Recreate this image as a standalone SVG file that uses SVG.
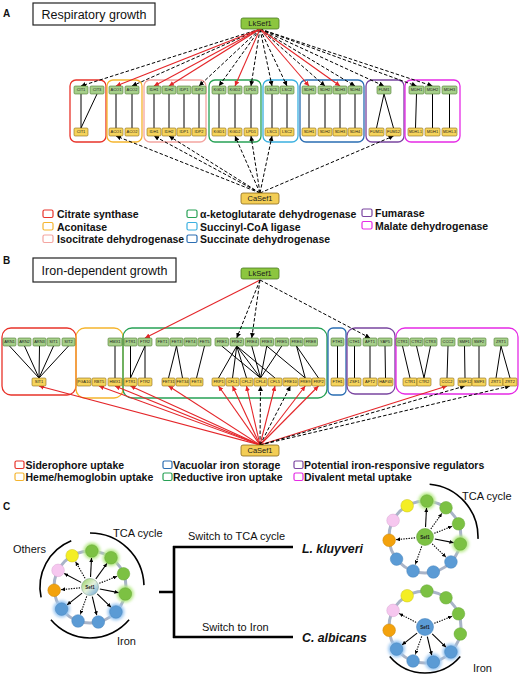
<svg xmlns="http://www.w3.org/2000/svg" width="520" height="680" viewBox="0 0 520 680">
<defs>
<style>
text{font-family:"Liberation Sans",Arial,sans-serif}
.g{fill:#a6cf8a;stroke:#4e7a2f;stroke-width:.6}
.y{fill:#f6d45c;stroke:#8a6a1a;stroke-width:.6}
.nt{font-size:4px;text-anchor:middle;fill:#1a1a1a}
.sm{font-size:3.5px}
.tf{font-size:7.5px;text-anchor:middle;fill:#1a1a1a}
.lk{fill:#8cc63f;stroke:#4a7a25;stroke-width:.8}
.ca{fill:#f3cd55;stroke:#8a6a1a;stroke-width:.8}
.red{stroke:#e4262a;stroke-width:1.1;fill:none}
.dash{stroke:#000;stroke-width:1;stroke-dasharray:3.5 2;fill:none}
.blk{stroke:#000;stroke-width:1;fill:none}
.box{fill:none;stroke-width:1.3}
.leg{font-size:10.5px;font-weight:bold;fill:#111}
.li{fill:none;stroke-width:1.2}
.title{font-size:12.5px;fill:#111;text-anchor:middle}
.tb{fill:#fff;stroke:#222;stroke-width:1.2}
.pl{font-size:10px;font-weight:bold;fill:#111}
.ct{font-size:11px;fill:#111}
.sp{font-size:12.3px;font-weight:bold;font-style:italic;fill:#111}
.ring{fill:none;stroke:#a9b4c8;stroke-width:3}
.cg{fill:#7cc143;stroke:#69a83a;stroke-width:.5}
.cb{fill:#5b9bd5;stroke:#4a86bd;stroke-width:.5}
.cy{fill:#f4ee24;stroke:#c8c21a;stroke-width:.5}
.cp{fill:#f6c7ef;stroke:#d9a6d2;stroke-width:.5}
.co{fill:#f3a20c;stroke:#c98508;stroke-width:.5}
.hg{fill:#b8ea8a;filter:url(#blur)}
.hb{fill:#9cc8f2;filter:url(#blur)}
.as{stroke:#000;stroke-width:1.1;fill:none;marker-end:url(#ac)}
.ad{stroke:#000;stroke-width:1.1;stroke-dasharray:1.4 1.2;fill:none;marker-end:url(#ac)}
.arc{fill:none;stroke:#000;stroke-width:1.6}
.tree{stroke:#000;stroke-width:2.6;fill:none}
.s1{font-size:4.5px;font-weight:bold;text-anchor:middle;fill:#1a1a1a}
</style>
<marker id="ar" markerUnits="userSpaceOnUse" markerWidth="5" markerHeight="5" refX="5" refY="2.5" orient="auto"><path d="M0,0 L5,2.5 L0,5 z" fill="#e4262a"/></marker>
<marker id="ak" markerUnits="userSpaceOnUse" markerWidth="5" markerHeight="5" refX="5" refY="2.5" orient="auto"><path d="M0,0 L5,2.5 L0,5 z" fill="#000"/></marker>
<marker id="ac" markerUnits="userSpaceOnUse" markerWidth="4" markerHeight="4" refX="4" refY="2" orient="auto"><path d="M0,0 L4,2 L0,4 z" fill="#000"/></marker>
<filter id="blur" x="-60%" y="-60%" width="220%" height="220%"><feGaussianBlur stdDeviation="1.6"/></filter>
<linearGradient id="sefg" x1="0" y1="0" x2="1" y2="1"><stop offset="0" stop-color="#8fcf5a"/><stop offset="0.5" stop-color="#e6f2dc"/><stop offset="1" stop-color="#5f9fd9"/></linearGradient>
</defs>
<rect width="520" height="680" fill="#fff"/>

<!-- ================= PANEL A ================= -->
<text class="pl" x="3" y="17">A</text>
<g id="titleA"><rect class="tb" x="33" y="3" width="122" height="22"/><text class="title" x="94" y="19">Respiratory growth</text></g>

<g id="groupsA">
<rect class="box" x="70" y="80" width="36" height="62" rx="6" stroke="#e8332a"/>
<rect class="box" x="107" y="80" width="35" height="62" rx="6" stroke="#f5b52e"/>
<rect class="box" x="144" y="80" width="62" height="62" rx="6" stroke="#f4a5a0"/>
<rect class="box" x="209" y="80" width="52" height="62" rx="6" stroke="#27a155"/>
<rect class="box" x="263" y="80" width="35" height="62" rx="6" stroke="#3bb0e0"/>
<rect class="box" x="300" y="80" width="64" height="62" rx="6" stroke="#2a6db2"/>
<rect class="box" x="366" y="80" width="38" height="62" rx="6" stroke="#7a45a0"/>
<rect class="box" x="405" y="80" width="55" height="62" rx="6" stroke="#e52ae5"/>
</g>

<g id="connectorsA">
<!-- internal -->
<path class="blk" d="M81,94L81,128M97,94L81,128M116,94L116,128M132,94L132,128M154,94L154,128M169,94L169,128M184,94L184,128M199,94L199,128M219,94L219,128M235,94L235,128M251,94L251,128M272,94L272,128M287,94L287,128M309,94L309,128M325,94L325,128M340,94L340,128M355,94L355,128M384,94L376.5,128M384,94L393.5,128M416.5,94L415.5,128M432.5,94L432.5,128M449.5,94L449.5,128"/>
<!-- LkSef1 -> top -->
<line class="dash" x1="260" y1="29" x2="81" y2="86" marker-end="url(#ak)"/>
<line class="dash" x1="260" y1="29" x2="132" y2="86" marker-end="url(#ak)"/>
<line class="dash" x1="260" y1="29" x2="199" y2="86" marker-end="url(#ak)"/>
<line class="dash" x1="260" y1="29" x2="219" y2="86" marker-end="url(#ak)"/>
<line class="dash" x1="260" y1="29" x2="251" y2="86" marker-end="url(#ak)"/>
<line class="dash" x1="260" y1="29" x2="272" y2="86" marker-end="url(#ak)"/>
<line class="dash" x1="260" y1="29" x2="287" y2="86" marker-end="url(#ak)"/>
<line class="dash" x1="260" y1="29" x2="325" y2="86" marker-end="url(#ak)"/>
<line class="dash" x1="260" y1="29" x2="355" y2="86" marker-end="url(#ak)"/>
<line class="dash" x1="260" y1="29" x2="384" y2="86" marker-end="url(#ak)"/>
<line class="dash" x1="260" y1="29" x2="416.5" y2="86" marker-end="url(#ak)"/>
<line class="dash" x1="260" y1="29" x2="432.5" y2="86" marker-end="url(#ak)"/>
<line class="red" x1="260" y1="29" x2="116" y2="86" marker-end="url(#ar)"/>
<line class="red" x1="260" y1="29" x2="154" y2="86" marker-end="url(#ar)"/>
<line class="red" x1="260" y1="29" x2="169" y2="86" marker-end="url(#ar)"/>
<line class="red" x1="260" y1="29" x2="235" y2="86" marker-end="url(#ar)"/>
<line class="red" x1="260" y1="29" x2="309" y2="86" marker-end="url(#ar)"/>
<line class="red" x1="260" y1="29" x2="340" y2="86" marker-end="url(#ar)"/>
<!-- CaSef1 -> bottom -->
<line class="dash" x1="260" y1="193" x2="116" y2="136" marker-end="url(#ak)"/>
<line class="dash" x1="260" y1="193" x2="154" y2="136" marker-end="url(#ak)"/>
<line class="dash" x1="260" y1="193" x2="169" y2="136" marker-end="url(#ak)"/>
<line class="dash" x1="260" y1="193" x2="235" y2="136" marker-end="url(#ak)"/>
<line class="dash" x1="260" y1="193" x2="251" y2="136" marker-end="url(#ak)"/>
<line class="dash" x1="260" y1="193" x2="272" y2="136" marker-end="url(#ak)"/>
<line class="dash" x1="260" y1="193" x2="393.5" y2="136" marker-end="url(#ak)"/>
</g>

<g id="LkSef1_A"><rect class="lk" x="241" y="18" width="38" height="11" rx="2"/><text class="tf" x="260" y="26.3">LkSef1</text></g>
<g id="CaSef1_A"><rect class="ca" x="241" y="193" width="38" height="11" rx="2"/><text class="tf" x="260" y="201.3">CaSef1</text></g>

<g id="nodesA_top">
<rect class="g" x="74" y="86" width="14" height="8" rx="1.2"/><text class="nt" x="81" y="91.4">CIT1</text>
<rect class="g" x="90" y="86" width="14" height="8" rx="1.2"/><text class="nt" x="97" y="91.4">CIT3</text>
<rect class="g" x="109" y="86" width="14" height="8" rx="1.2"/><text class="nt" x="116" y="91.4">ACO1</text>
<rect class="g" x="125" y="86" width="14" height="8" rx="1.2"/><text class="nt" x="132" y="91.4">ACO2</text>
<rect class="g" x="147" y="86" width="14" height="8" rx="1.2"/><text class="nt" x="154" y="91.4">IDH1</text>
<rect class="g" x="162" y="86" width="14" height="8" rx="1.2"/><text class="nt" x="169" y="91.4">IDH2</text>
<rect class="g" x="177" y="86" width="14" height="8" rx="1.2"/><text class="nt" x="184" y="91.4">IDP1</text>
<rect class="g" x="192" y="86" width="14" height="8" rx="1.2"/><text class="nt" x="199" y="91.4">IDP2</text>
<rect class="g" x="212" y="86" width="14" height="8" rx="1.2"/><text class="nt" x="219" y="91.4">KGD1</text>
<rect class="g" x="228" y="86" width="14" height="8" rx="1.2"/><text class="nt" x="235" y="91.4">KGD2</text>
<rect class="g" x="244" y="86" width="14" height="8" rx="1.2"/><text class="nt" x="251" y="91.4">LPD1</text>
<rect class="g" x="265" y="86" width="14" height="8" rx="1.2"/><text class="nt" x="272" y="91.4">LSC1</text>
<rect class="g" x="280" y="86" width="14" height="8" rx="1.2"/><text class="nt" x="287" y="91.4">LSC2</text>
<rect class="g" x="302" y="86" width="14" height="8" rx="1.2"/><text class="nt" x="309" y="91.4">SDH1</text>
<rect class="g" x="318" y="86" width="14" height="8" rx="1.2"/><text class="nt" x="325" y="91.4">SDH2</text>
<rect class="g" x="333" y="86" width="14" height="8" rx="1.2"/><text class="nt" x="340" y="91.4">SDH3</text>
<rect class="g" x="348" y="86" width="14" height="8" rx="1.2"/><text class="nt" x="355" y="91.4">SDH4</text>
<rect class="g" x="377" y="86" width="14" height="8" rx="1.2"/><text class="nt" x="384" y="91.4">FUM1</text>
<rect class="g" x="409" y="86" width="15" height="8" rx="1.2"/><text class="nt" x="416.5" y="91.4">MDH1</text>
<rect class="g" x="425" y="86" width="15" height="8" rx="1.2"/><text class="nt" x="432.5" y="91.4">MDH2</text>
<rect class="g" x="442" y="86" width="15" height="8" rx="1.2"/><text class="nt" x="449.5" y="91.4">MDH3</text>
</g>
<g id="nodesA_bottom">
<rect class="y" x="74" y="128" width="14" height="8" rx="1.2"/><text class="nt" x="81" y="133.4">CIT1</text>
<rect class="y" x="109" y="128" width="14" height="8" rx="1.2"/><text class="nt" x="116" y="133.4">ACO1</text>
<rect class="y" x="125" y="128" width="14" height="8" rx="1.2"/><text class="nt" x="132" y="133.4">ACO2</text>
<rect class="y" x="147" y="128" width="14" height="8" rx="1.2"/><text class="nt" x="154" y="133.4">IDH1</text>
<rect class="y" x="162" y="128" width="14" height="8" rx="1.2"/><text class="nt" x="169" y="133.4">IDH2</text>
<rect class="y" x="177" y="128" width="14" height="8" rx="1.2"/><text class="nt" x="184" y="133.4">IDP1</text>
<rect class="y" x="192" y="128" width="14" height="8" rx="1.2"/><text class="nt" x="199" y="133.4">IDP2</text>
<rect class="y" x="212" y="128" width="14" height="8" rx="1.2"/><text class="nt" x="219" y="133.4">KGD1</text>
<rect class="y" x="228" y="128" width="14" height="8" rx="1.2"/><text class="nt" x="235" y="133.4">KGD2</text>
<rect class="y" x="244" y="128" width="14" height="8" rx="1.2"/><text class="nt" x="251" y="133.4">LPD1</text>
<rect class="y" x="265" y="128" width="14" height="8" rx="1.2"/><text class="nt" x="272" y="133.4">LSC1</text>
<rect class="y" x="280" y="128" width="14" height="8" rx="1.2"/><text class="nt" x="287" y="133.4">LSC2</text>
<rect class="y" x="302" y="128" width="14" height="8" rx="1.2"/><text class="nt" x="309" y="133.4">SDH1</text>
<rect class="y" x="318" y="128" width="14" height="8" rx="1.2"/><text class="nt" x="325" y="133.4">SDH2</text>
<rect class="y" x="333" y="128" width="14" height="8" rx="1.2"/><text class="nt" x="340" y="133.4">SDH3</text>
<rect class="y" x="348" y="128" width="14" height="8" rx="1.2"/><text class="nt" x="355" y="133.4">SDH4</text>
<rect class="y" x="369" y="128" width="15" height="8" rx="1.2"/><text class="nt" x="376.5" y="133.4">FUM11</text>
<rect class="y" x="386" y="128" width="15" height="8" rx="1.2"/><text class="nt" x="393.5" y="133.4">FUM12</text>
<rect class="y" x="408" y="128" width="15" height="8" rx="1.2"/><text class="nt sm" x="415.5" y="133.3">MDH1-1</text>
<rect class="y" x="425" y="128" width="15" height="8" rx="1.2"/><text class="nt" x="432.5" y="133.4">MDH1</text>
<rect class="y" x="442" y="128" width="15" height="8" rx="1.2"/><text class="nt sm" x="449.5" y="133.3">MDH1-3</text>
</g>

<g id="legendA">
<rect class="li" x="43" y="210" width="10" height="7.5" rx="1.5" stroke="#e8332a"/><text class="leg" x="57" y="218">Citrate synthase</text>
<rect class="li" x="43" y="222.5" width="10" height="7.5" rx="1.5" stroke="#f5b52e"/><text class="leg" x="57" y="230.5">Aconitase</text>
<rect class="li" x="43" y="235" width="10" height="7.5" rx="1.5" stroke="#f4a5a0"/><text class="leg" x="57" y="243">Isocitrate dehydrogenase</text>
<rect class="li" x="187" y="210" width="10" height="7.5" rx="1.5" stroke="#27a155"/><text class="leg" x="200" y="218">α-ketoglutarate dehydrogenase</text>
<rect class="li" x="187" y="222.5" width="10" height="7.5" rx="1.5" stroke="#3bb0e0"/><text class="leg" x="200" y="230.5">Succinyl-CoA ligase</text>
<rect class="li" x="187" y="235" width="10" height="7.5" rx="1.5" stroke="#2a6db2"/><text class="leg" x="200" y="243">Succinate dehydrogenase</text>
<rect class="li" x="362" y="209" width="10" height="7.5" rx="1.5" stroke="#7a45a0"/><text class="leg" x="375" y="217">Fumarase</text>
<rect class="li" x="362" y="221.5" width="10" height="7.5" rx="1.5" stroke="#e52ae5"/><text class="leg" x="375" y="229.5">Malate dehydrogenase</text>
</g>

<!-- ================= PANEL B ================= -->
<text class="pl" x="3" y="264">B</text>
<g id="titleB"><rect class="tb" x="33" y="258" width="143" height="24"/><text class="title" x="104.5" y="275">Iron-dependent growth</text></g>

<g id="groupsB">
<rect class="box" x="2" y="328" width="74" height="67" rx="9" stroke="#e8332a"/>
<rect class="box" x="76" y="328" width="47" height="70" rx="9" stroke="#f5b52e"/>
<rect class="box" x="123" y="328" width="204" height="70" rx="9" stroke="#27a155"/>
<rect class="box" x="328" y="328" width="18" height="67" rx="5" stroke="#2a6db2"/>
<rect class="box" x="347" y="328" width="48" height="66" rx="8" stroke="#7a45a0"/>
<rect class="box" x="396" y="328" width="122" height="66" rx="9" stroke="#e52ae5"/>
</g>

<g id="connectorsB">
<path class="blk" d="M9.5,346L39,378M24.5,346L39,378M39.5,346L39,378M53.5,346L39,378M68.5,346L39,378M115,346L115,378M130.5,346L130.5,378M145,346L130.5,378M145,346L145,378M176.5,346L168.5,378M176.5,346L182.5,378M204.5,346L196.5,378M221.75,346L260.5,378M236.75,346L218.5,378M236.75,346L232.5,378M236.75,346L246.5,378M236.75,346L260.5,378M236.75,346L275,378M251.75,346L260.5,378M266.75,346L260.5,378M266.75,346L305.25,378M281.75,346L260.5,378M296.5,346L305.25,378M296.5,346L318.5,378M337.5,346L337.5,378M354.5,346L354.5,378M370,346L370,378M385,346L385.5,378M402.5,346L410,378M416.5,346L424,378M430.5,346L424,378M448,346L447,378M464.5,346L465,378M479,346L479,378M501,346L496,378M501,346L510,378"/>
<line class="red" x1="260" y1="280" x2="145" y2="338" marker-end="url(#ar)"/>
<line class="dash" x1="260" y1="280" x2="236.75" y2="338" marker-end="url(#ak)"/>
<line class="dash" x1="260" y1="280" x2="251.75" y2="338" marker-end="url(#ak)"/>
<line class="dash" x1="260" y1="280" x2="370" y2="338" marker-end="url(#ak)"/>
<line class="red" x1="260" y1="445" x2="39" y2="386" marker-end="url(#ar)"/>
<line class="red" x1="260" y1="445" x2="99" y2="386" marker-end="url(#ar)"/>
<line class="red" x1="260" y1="445" x2="115" y2="386" marker-end="url(#ar)"/>
<line class="red" x1="260" y1="445" x2="130.5" y2="386" marker-end="url(#ar)"/>
<line class="red" x1="260" y1="445" x2="168.5" y2="386" marker-end="url(#ar)"/>
<line class="red" x1="260" y1="445" x2="218.5" y2="386" marker-end="url(#ar)"/>
<line class="red" x1="260" y1="445" x2="232.5" y2="386" marker-end="url(#ar)"/>
<line class="red" x1="260" y1="445" x2="246.5" y2="386" marker-end="url(#ar)"/>
<line class="red" x1="260" y1="445" x2="275" y2="386" marker-end="url(#ar)"/>
<line class="red" x1="260" y1="445" x2="305.25" y2="386" marker-end="url(#ar)"/>
<line class="red" x1="260" y1="445" x2="318.5" y2="386" marker-end="url(#ar)"/>
<line class="red" x1="260" y1="445" x2="447" y2="386" marker-end="url(#ar)"/>
<line class="dash" x1="260" y1="445" x2="260.5" y2="386" marker-end="url(#ak)"/>
<line class="dash" x1="260" y1="445" x2="290.5" y2="386" marker-end="url(#ak)"/>
<line class="dash" x1="260" y1="445" x2="465" y2="386" marker-end="url(#ak)"/>
<line class="dash" x1="260" y1="445" x2="510" y2="386" marker-end="url(#ak)"/>
</g>

<g id="LkSef1_B"><rect class="lk" x="241" y="268" width="38" height="11" rx="2"/><text class="tf" x="260" y="276.3">LkSef1</text></g>
<g id="CaSef1_B"><rect class="ca" x="241" y="445" width="38" height="11" rx="2"/><text class="tf" x="260" y="453.3">CaSef1</text></g>

<g id="nodesB_top">
<rect class="g" x="3" y="338" width="13" height="8" rx="1.2"/><text class="nt" x="9.5" y="343.4">ARN1</text>
<rect class="g" x="18" y="338" width="13" height="8" rx="1.2"/><text class="nt" x="24.5" y="343.4">ARN2</text>
<rect class="g" x="33" y="338" width="13" height="8" rx="1.2"/><text class="nt" x="39.5" y="343.4">ARN3</text>
<rect class="g" x="47" y="338" width="13" height="8" rx="1.2"/><text class="nt" x="53.5" y="343.4">SIT1</text>
<rect class="g" x="62" y="338" width="13" height="8" rx="1.2"/><text class="nt" x="68.5" y="343.4">SIT2</text>
<rect class="g" x="108" y="338" width="14" height="8" rx="1.2"/><text class="nt" x="115" y="343.4">HMX1</text>
<rect class="g" x="124" y="338" width="13" height="8" rx="1.2"/><text class="nt" x="130.5" y="343.4">FTR1</text>
<rect class="g" x="138" y="338" width="14" height="8" rx="1.2"/><text class="nt" x="145" y="343.4">FTR2</text>
<rect class="g" x="156" y="338" width="13" height="8" rx="1.2"/><text class="nt" x="162.5" y="343.4">FET1</text>
<rect class="g" x="170" y="338" width="13" height="8" rx="1.2"/><text class="nt" x="176.5" y="343.4">FET3</text>
<rect class="g" x="184" y="338" width="13" height="8" rx="1.2"/><text class="nt" x="190.5" y="343.4">FET4</text>
<rect class="g" x="198" y="338" width="13" height="8" rx="1.2"/><text class="nt" x="204.5" y="343.4">FET5</text>
<rect class="g" x="215" y="338" width="13.5" height="8" rx="1.2"/><text class="nt" x="221.75" y="343.4">FRE1</text>
<rect class="g" x="230" y="338" width="13.5" height="8" rx="1.2"/><text class="nt" x="236.75" y="343.4">FRE2</text>
<rect class="g" x="245" y="338" width="13.5" height="8" rx="1.2"/><text class="nt" x="251.75" y="343.4">FRE4</text>
<rect class="g" x="260" y="338" width="13.5" height="8" rx="1.2"/><text class="nt" x="266.75" y="343.4">FRE3</text>
<rect class="g" x="275" y="338" width="13.5" height="8" rx="1.2"/><text class="nt" x="281.75" y="343.4">FRE5</text>
<rect class="g" x="290" y="338" width="13" height="8" rx="1.2"/><text class="nt" x="296.5" y="343.4">FRE6</text>
<rect class="g" x="304" y="338" width="13.5" height="8" rx="1.2"/><text class="nt" x="310.75" y="343.4">FRE8</text>
<rect class="g" x="331" y="338" width="13" height="8" rx="1.2"/><text class="nt" x="337.5" y="343.4">FTH1</text>
<rect class="g" x="348" y="338" width="13" height="8" rx="1.2"/><text class="nt" x="354.5" y="343.4">CTH1</text>
<rect class="g" x="363" y="338" width="14" height="8" rx="1.2"/><text class="nt" x="370" y="343.4">AFT1</text>
<rect class="g" x="378" y="338" width="14" height="8" rx="1.2"/><text class="nt" x="385" y="343.4">YAP5</text>
<rect class="g" x="396" y="338" width="13" height="8" rx="1.2"/><text class="nt" x="402.5" y="343.4">CTR1</text>
<rect class="g" x="410" y="338" width="13" height="8" rx="1.2"/><text class="nt" x="416.5" y="343.4">CTR2</text>
<rect class="g" x="424" y="338" width="13" height="8" rx="1.2"/><text class="nt" x="430.5" y="343.4">CTR3</text>
<rect class="g" x="441" y="338" width="14" height="8" rx="1.2"/><text class="nt" x="448" y="343.4">CCC2</text>
<rect class="g" x="458" y="338" width="13" height="8" rx="1.2"/><text class="nt" x="464.5" y="343.4">SMF1</text>
<rect class="g" x="472" y="338" width="14" height="8" rx="1.2"/><text class="nt" x="479" y="343.4">SMF2</text>
<rect class="g" x="494" y="338" width="14" height="8" rx="1.2"/><text class="nt" x="501" y="343.4">ZRT1</text>
</g>
<g id="nodesB_bottom">
<rect class="y" x="32" y="378" width="14" height="8" rx="1.2"/><text class="nt" x="39" y="383.4">SIT1</text>
<rect class="y" x="77" y="378" width="14" height="8" rx="1.2"/><text class="nt" x="84" y="383.4">PGA10</text>
<rect class="y" x="92" y="378" width="14" height="8" rx="1.2"/><text class="nt" x="99" y="383.4">RBT5</text>
<rect class="y" x="108" y="378" width="14" height="8" rx="1.2"/><text class="nt" x="115" y="383.4">HMX1</text>
<rect class="y" x="124" y="378" width="13" height="8" rx="1.2"/><text class="nt" x="130.5" y="383.4">FTR1</text>
<rect class="y" x="138" y="378" width="14" height="8" rx="1.2"/><text class="nt" x="145" y="383.4">FTR2</text>
<rect class="y" x="162" y="378" width="13" height="8" rx="1.2"/><text class="nt" x="168.5" y="383.4">FET31</text>
<rect class="y" x="176" y="378" width="13" height="8" rx="1.2"/><text class="nt" x="182.5" y="383.4">FET34</text>
<rect class="y" x="190" y="378" width="13" height="8" rx="1.2"/><text class="nt" x="196.5" y="383.4">FET3</text>
<rect class="y" x="212" y="378" width="13" height="8" rx="1.2"/><text class="nt" x="218.5" y="383.4">FRP1</text>
<rect class="y" x="226" y="378" width="13" height="8" rx="1.2"/><text class="nt" x="232.5" y="383.4">CFL1</text>
<rect class="y" x="240" y="378" width="13" height="8" rx="1.2"/><text class="nt" x="246.5" y="383.4">CFL2</text>
<rect class="y" x="254" y="378" width="13" height="8" rx="1.2"/><text class="nt" x="260.5" y="383.4">CFL4</text>
<rect class="y" x="268" y="378" width="14" height="8" rx="1.2"/><text class="nt" x="275" y="383.4">CFL5</text>
<rect class="y" x="283" y="378" width="15" height="8" rx="1.2"/><text class="nt" x="290.5" y="383.4">FRE10</text>
<rect class="y" x="299" y="378" width="12.5" height="8" rx="1.2"/><text class="nt" x="305.25" y="383.4">FRE9</text>
<rect class="y" x="312" y="378" width="13" height="8" rx="1.2"/><text class="nt" x="318.5" y="383.4">FRP2</text>
<rect class="y" x="331" y="378" width="13" height="8" rx="1.2"/><text class="nt" x="337.5" y="383.4">FTH1</text>
<rect class="y" x="348" y="378" width="13" height="8" rx="1.2"/><text class="nt" x="354.5" y="383.4">ZSF1</text>
<rect class="y" x="363" y="378" width="14" height="8" rx="1.2"/><text class="nt" x="370" y="383.4">AFT2</text>
<rect class="y" x="378" y="378" width="15" height="8" rx="1.2"/><text class="nt" x="385.5" y="383.4">HAP43</text>
<rect class="y" x="403" y="378" width="14" height="8" rx="1.2"/><text class="nt" x="410" y="383.4">CTR1</text>
<rect class="y" x="417" y="378" width="14" height="8" rx="1.2"/><text class="nt" x="424" y="383.4">CTR2</text>
<rect class="y" x="440" y="378" width="14" height="8" rx="1.2"/><text class="nt" x="447" y="383.4">CCC2</text>
<rect class="y" x="458" y="378" width="14" height="8" rx="1.2"/><text class="nt" x="465" y="383.4">SMF12</text>
<rect class="y" x="472" y="378" width="14" height="8" rx="1.2"/><text class="nt" x="479" y="383.4">SMF3</text>
<rect class="y" x="489" y="378" width="14" height="8" rx="1.2"/><text class="nt" x="496" y="383.4">ZRT1</text>
<rect class="y" x="503" y="378" width="14" height="8" rx="1.2"/><text class="nt" x="510" y="383.4">ZRT2</text>
</g>

<g id="legendB">
<rect class="li" x="15" y="461" width="9" height="7.5" rx="1.5" stroke="#e8332a"/><text class="leg" x="25.5" y="469">Siderophore uptake</text>
<rect class="li" x="15" y="473" width="9" height="7.5" rx="1.5" stroke="#f5b52e"/><text class="leg" x="25.5" y="481">Heme/hemoglobin uptake</text>
<rect class="li" x="163" y="461" width="9" height="7.5" rx="1.5" stroke="#2a6db2"/><text class="leg" x="173" y="469">Vacuolar iron storage</text>
<rect class="li" x="163" y="473" width="9" height="7.5" rx="1.5" stroke="#27a155"/><text class="leg" x="173" y="481">Reductive iron uptake</text>
<rect class="li" x="294" y="461" width="9" height="7.5" rx="1.5" stroke="#7a45a0"/><text class="leg" x="304" y="469">Potential iron-responsive regulators</text>
<rect class="li" x="294" y="473" width="9" height="7.5" rx="1.5" stroke="#e52ae5"/><text class="leg" x="304" y="481">Divalent metal uptake</text>
</g>

<!-- ================= PANEL C ================= -->
<text class="pl" x="3" y="510">C</text>

<g id="netLeft">
<circle class="ring" cx="90" cy="587" r="36"/>
<circle class="hg" cx="91.88" cy="551.05" r="8.5"/>
<circle class="hg" cx="111.01" cy="557.76" r="8.5"/>
<circle class="hg" cx="125.32" cy="593.99" r="8.5"/>
<circle class="hb" cx="115.94" cy="611.96" r="8.5"/>
<circle class="hb" cx="61.59" cy="609.11" r="8.5"/>
<circle class="cg" cx="91.88" cy="551.05" r="6.3"/>
<circle class="cg" cx="111.01" cy="557.76" r="6.3"/>
<circle class="cg" cx="123.49" cy="573.81" r="6.3"/>
<circle class="cg" cx="125.32" cy="593.99" r="6.3"/>
<circle class="cb" cx="115.94" cy="611.96" r="6.3"/>
<circle class="cb" cx="98.34" cy="622.02" r="6.3"/>
<circle class="cb" cx="78.04" cy="620.96" r="6.3"/>
<circle class="cb" cx="61.59" cy="609.11" r="6.3"/>
<circle class="co" cx="54.15" cy="590.26" r="6.3"/>
<circle class="cp" cx="58.07" cy="570.38" r="6.3"/>
<circle class="cy" cx="72.16" cy="555.73" r="6.3"/>
<path class="as" d="M90.52,577.01L91.52,558.04"/>
<path class="as" d="M95.84,578.88L106.92,563.45"/>
<path class="ad" d="M99.30,583.34L116.98,576.37"/>
<path class="as" d="M99.81,588.94L118.45,592.63"/>
<path class="as" d="M97.21,593.93L110.90,607.11"/>
<path class="as" d="M92.32,596.73L96.72,615.21"/>
<path class="ad" d="M86.68,596.43L80.37,614.35"/>
<path class="as" d="M82.11,593.14L67.12,604.81"/>
<path class="ad" d="M80.04,587.91L61.12,589.63"/>
<path class="as" d="M81.13,582.38L64.28,573.61"/>
<path class="ad" d="M85.05,578.31L75.63,561.81"/>
<circle cx="90" cy="587" r="8.5" fill="url(#sefg)" stroke="#7a9a8a" stroke-width=".5"/>
<text class="s1" x="90" y="588.6">Sef1</text>
<path class="arc" d="M90,533A54,54 0 0 1 143.97,585.12"/>
<path class="arc" d="M41.09,597.40A50,50 0 0 1 71.27,540.64"/>
<path class="arc" d="M129.07,619.78A51,51 0 0 1 50.93,619.78"/>
<text class="ct" x="113" y="537">TCA cycle</text>
<text class="ct" x="13" y="553">Others</text>
<text class="ct" x="117" y="645">Iron</text>
</g>

<g id="tree">
<path class="tree" d="M159,592H174M174,546V638M173,547H293M173,637H293"/>
<text class="ct" x="188" y="540">Switch to TCA cycle</text>
<text class="ct" x="202" y="631">Switch to Iron</text>
<text class="sp" x="302" y="553">L. kluyveri</text>
<text class="sp" x="302" y="642">C. albicans</text>
</g>

<g id="netLk">
<circle class="ring" cx="425" cy="537" r="36"/>
<circle class="hg" cx="426.88" cy="501.05" r="8.5"/>
<circle class="hg" cx="460.32" cy="543.99" r="8.5"/>
<circle class="cg" cx="426.88" cy="501.05" r="6.3"/>
<circle class="cg" cx="446.01" cy="507.76" r="6.3"/>
<circle class="cg" cx="458.49" cy="523.81" r="6.3"/>
<circle class="cg" cx="460.32" cy="543.99" r="6.3"/>
<circle class="cb" cx="450.94" cy="561.96" r="6.3"/>
<circle class="cb" cx="433.34" cy="572.02" r="6.3"/>
<circle class="cb" cx="413.04" cy="570.96" r="6.3"/>
<circle class="cb" cx="396.59" cy="559.11" r="6.3"/>
<circle class="co" cx="389.15" cy="540.26" r="6.3"/>
<circle class="cp" cx="393.07" cy="520.38" r="6.3"/>
<circle class="cy" cx="407.16" cy="505.73" r="6.3"/>
<path class="as" d="M425.52,527.01L426.52,508.04"/>
<path class="ad" d="M430.84,528.88L441.92,513.45"/>
<path class="ad" d="M434.30,533.34L451.98,526.37"/>
<path class="as" d="M434.81,538.94L453.45,542.63"/>
<path class="ad" d="M432.21,543.93L445.90,557.11"/>
<path class="ad" d="M421.68,546.43L415.37,564.35"/>
<path class="ad" d="M415.04,537.91L396.12,539.63"/>
<circle cx="425" cy="537" r="8.5" fill="#7cc143" stroke="#5f9a32" stroke-width=".5"/>
<text class="s1" x="425" y="538.6">Sef1</text>
<path class="arc" d="M429.62,484.20A53,53 0 0 1 477.97,538.85"/>
<text class="ct" x="462" y="500">TCA cycle</text>
</g>

<g id="netCa">
<circle class="ring" cx="425" cy="627" r="36"/>
<circle class="hb" cx="450.94" cy="651.96" r="8.5"/>
<circle class="hb" cx="433.34" cy="662.02" r="8.5"/>
<circle class="hb" cx="396.59" cy="649.11" r="8.5"/>
<circle class="cg" cx="426.88" cy="591.05" r="6.3"/>
<circle class="cg" cx="446.01" cy="597.76" r="6.3"/>
<circle class="cg" cx="458.49" cy="613.81" r="6.3"/>
<circle class="cg" cx="460.32" cy="633.99" r="6.3"/>
<circle class="cb" cx="450.94" cy="651.96" r="6.3"/>
<circle class="cb" cx="433.34" cy="662.02" r="6.3"/>
<circle class="cb" cx="413.04" cy="660.96" r="6.3"/>
<circle class="cb" cx="396.59" cy="649.11" r="6.3"/>
<circle class="co" cx="389.15" cy="630.26" r="6.3"/>
<circle class="cp" cx="393.07" cy="610.38" r="6.3"/>
<circle class="cy" cx="407.16" cy="595.73" r="6.3"/>
<path class="ad" d="M416.13,622.38L399.28,613.61"/>
<path class="ad" d="M434.30,623.34L451.98,616.37"/>
<path class="as" d="M417.11,633.14L402.12,644.81"/>
<path class="ad" d="M421.68,636.43L415.37,654.35"/>
<path class="as" d="M427.32,636.73L431.72,655.21"/>
<path class="as" d="M432.21,633.93L445.90,647.11"/>
<circle cx="425" cy="627" r="8.5" fill="#5b9bd5" stroke="#3f7fba" stroke-width=".5"/>
<text class="s1" x="425" y="628.6">Sef1</text>
<path class="arc" d="M460.24,656.57A46,46 0 0 1 389.76,656.57"/>
<text class="ct" x="473" y="672">Iron</text>
</g>
</svg>
